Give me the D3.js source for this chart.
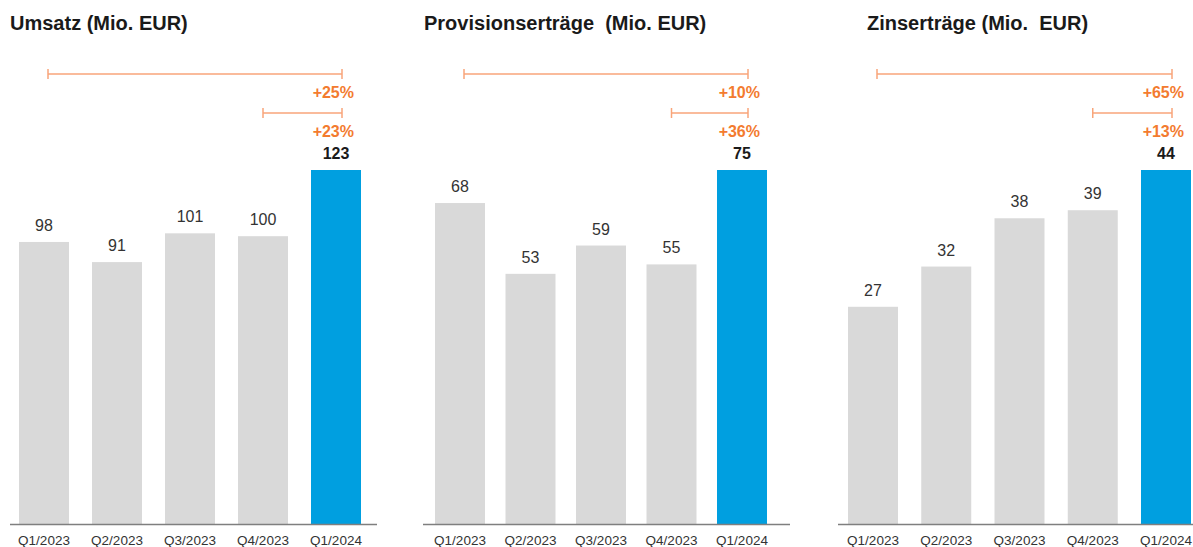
<!DOCTYPE html>
<html>
<head>
<meta charset="utf-8">
<script src="https://cdn.jsdelivr.net/npm/d3@7"></script>
<style>
  html, body { margin: 0; padding: 0; background: #fff; }
  svg { display: block; font-family: "Liberation Sans", Arial, Helvetica, sans-serif; }
</style>
</head>
<body>
<svg id="chart" width="1193" height="547"></svg>
<script>
// ---- Data ----
const categories = ["Q1/2023", "Q2/2023", "Q3/2023", "Q4/2023", "Q1/2024"];
const umsatz = [98, 91, 101, 100, 123];
const provisionen = [68, 53, 59, 55, 75];
const zinsen = [27, 32, 38, 39, 44];
const titles = ["Umsatz (Mio. EUR)", "Provisionserträge  (Mio. EUR)", "Zinserträge (Mio.  EUR)"];
const growthYoY = ["+25%", "+10%", "+65%"];   // Q1/2023 -> Q1/2024
const growthQoQ = ["+23%", "+36%", "+13%"];   // Q4/2023 -> Q1/2024
const seriesList = [umsatz, provisionen, zinsen];

// ---- Layout (positions/styles only) ----
const panels = [
  { axisX0: 10,  axisX1: 377,  barX0: 19,  barX1: 361,  titleX: 10 },
  { axisX0: 423, axisX1: 790,  barX0: 435, barX1: 767,  titleX: 424 },
  { axisX0: 838, axisX1: 1205, barX0: 848, barX1: 1191, titleX: 867 }
];
const baseY = 524, topY = 170, barW = 50;
const gray = "#d9d9d9", blue = "#009fe0", orangeText = "#f37b2f", orangeLine = "#f8a57a";

const svg = d3.select("#chart");

panels.forEach((p, i) => {
  const values = seriesList[i];
  const g = svg.append("g");
  const step = (p.barX1 - p.barX0 - barW) / (categories.length - 1);
  const x = d3.scaleBand()
    .domain(categories)
    .range([p.barX0, p.barX1])
    .paddingInner(1 - barW / step)
    .paddingOuter(0);
  const y = d3.scaleLinear().domain([0, d3.max(values)]).range([baseY, topY]);
  const last = categories[categories.length - 1];

  // Title
  g.append("text")
    .attr("x", p.titleX).attr("y", 30)
    .attr("font-size", 20).attr("font-weight", "bold").attr("fill", "#1a1a1a")
    .style("white-space", "pre").attr("xml:space", "preserve")
    .text(titles[i]);

  // Bars
  g.selectAll("rect.bar").data(values).join("rect")
    .attr("class", "bar")
    .attr("x", (d, j) => x(categories[j]))
    .attr("width", x.bandwidth())
    .attr("y", d => y(d))
    .attr("height", d => baseY - y(d))
    .attr("fill", (d, j) => categories[j] === last ? blue : gray);

  // Value labels
  g.selectAll("text.val").data(values).join("text")
    .attr("class", "val")
    .attr("x", (d, j) => x(categories[j]) + x.bandwidth() / 2)
    .attr("y", d => y(d) - 11)
    .attr("text-anchor", "middle")
    .attr("font-size", 16)
    .attr("font-weight", (d, j) => categories[j] === last ? "bold" : "normal")
    .attr("fill", (d, j) => categories[j] === last ? "#1a1a1a" : "#333")
    .text(d => d);

  // Baseline axis
  g.append("line")
    .attr("x1", p.axisX0).attr("x2", p.axisX1)
    .attr("y1", baseY + 0.5).attr("y2", baseY + 0.5)
    .attr("stroke", "#7f7f7f").attr("stroke-width", 1.5);

  // Category labels
  const axis = d3.axisBottom(x).tickSize(0).tickPadding(0);
  const ax = g.append("g").attr("transform", `translate(0,${baseY})`).call(axis);
  ax.select(".domain").remove();
  ax.selectAll("text")
    .attr("y", 21).attr("dy", 0)
    .attr("font-size", 13.5).attr("fill", "#333")
    .attr("font-family", "Liberation Sans, Arial, sans-serif");

  // Growth brackets
  const cx = c => x(c) + x.bandwidth() / 2;
  const brackets = [
    { from: categories[0], yLine: 74, label: growthYoY[i], fromOff: 4 },
    { from: categories[3], yLine: 113, label: growthQoQ[i], fromOff: 0 }
  ];
  brackets.forEach(b => {
    const x1 = cx(b.from) + b.fromOff, x2 = cx(last) + 6;
    const bg = g.append("g").attr("stroke", orangeLine).attr("stroke-width", 1.5).attr("fill", "none");
    bg.append("line").attr("x1", x1).attr("x2", x2).attr("y1", b.yLine).attr("y2", b.yLine);
    bg.append("line").attr("x1", x1).attr("x2", x1).attr("y1", b.yLine - 5).attr("y2", b.yLine + 5);
    bg.append("line").attr("x1", x2).attr("x2", x2).attr("y1", b.yLine - 5).attr("y2", b.yLine + 5);
    g.append("text")
      .attr("x", x2 + 12).attr("y", b.yLine + 24)
      .attr("text-anchor", "end")
      .attr("font-size", 16).attr("font-weight", "bold").attr("fill", orangeText)
      .text(b.label);
  });
});
</script>
</body>
</html>
